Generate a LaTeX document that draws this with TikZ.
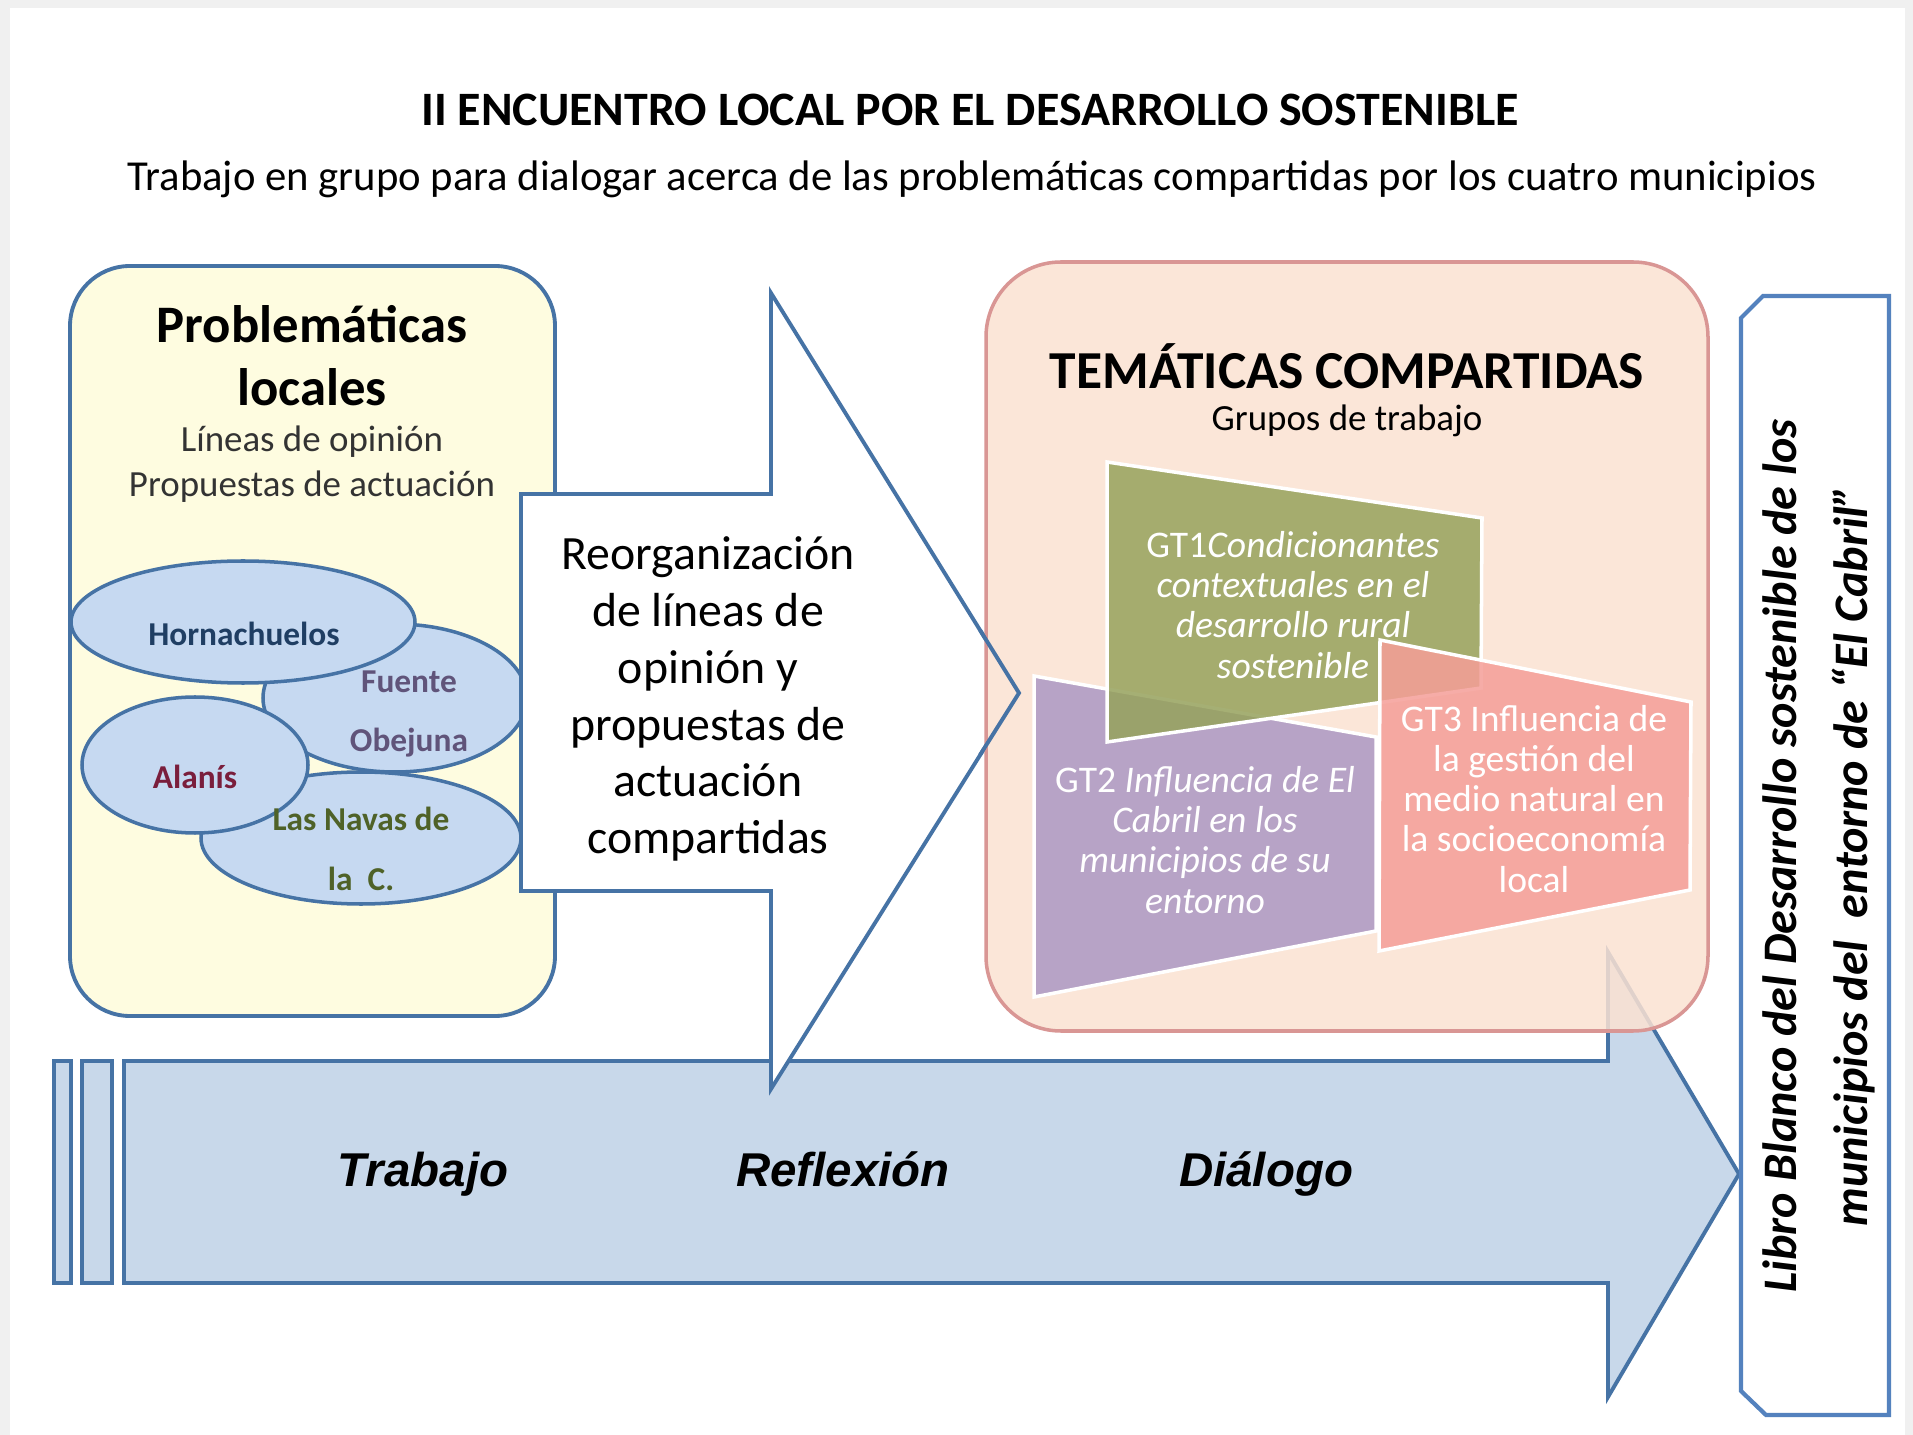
\documentclass[tikz,border=0pt]{standalone}
\usepackage{fontspec}
\setmainfont{Carlito}
\newfontfamily\arialfont{Liberation Sans}

\definecolor{lineblue}{RGB}{70,115,165}
\definecolor{boxblue}{RGB}{84,130,190}
\definecolor{townblue}{RGB}{198,217,241}
\definecolor{paleyellow}{RGB}{254,252,224}
\definecolor{peach}{RGB}{251,226,210}
\definecolor{peachline}{RGB}{217,150,148}
\definecolor{bandblue}{RGB}{200,216,234}
\definecolor{gtolive}{RGB}{150,162,92}
\definecolor{gtpurple}{RGB}{172,152,196}
\definecolor{gtsalmon}{RGB}{245,158,152}
\definecolor{hornblue}{RGB}{31,62,99}
\definecolor{fuentepurple}{RGB}{96,84,122}
\definecolor{alanisred}{RGB}{122,30,60}
\definecolor{navasgreen}{RGB}{79,98,40}

\tikzset{
  outline/.style={draw=lineblue, line width=1.1pt, line join=miter},
  town/.style={draw=lineblue, line width=1pt, fill=townblue},
  townname/.style={align=center, font=\fontsize{9.5}{17}\selectfont\bfseries},
  gt/.style={draw=white, line width=1pt, fill opacity=0.85},
  gttext/.style={text=white, align=center, font=\fontsize{10.7}{11.4}\selectfont},
  stage/.style={text height=10pt, text depth=3pt,
    font=\arialfont\bfseries\itshape\fontsize{13.5}{16}\selectfont}
}

\begin{document}
\begin{tikzpicture}[y=-1cm]
  % Background
  \fill [gray!12] (0, 0) rectangle (19.13, 14.35);
  \fill [white] (0.10, 0.08) rectangle (19.05, 14.35);

  % Title
  \node (title) at (9.70, 1.10)
    {\fontsize{13.65}{16}\selectfont\bfseries II ENCUENTRO LOCAL POR EL DESARROLLO SOSTENIBLE};
  \node (subtitle) at (9.72, 1.79)
    {\fontsize{12.15}{14}\selectfont Trabajo en grupo para dialogar acerca de las problemáticas compartidas por los cuatro municipios};

  % Problematicas locales
  \draw [outline, fill=paleyellow, rounded corners=0.6cm] (0.70, 2.66) rectangle (5.55, 10.16);
  \node [align=center, font=\fontsize{15}{18}\selectfont\bfseries] (local) at (3.12, 3.56)
    {Problemáticas\\locales};
  \node [align=center, text=black!80, font=\fontsize{10.5}{12.8}\selectfont] (opinion) at (3.12, 4.64)
    {Líneas de opinión\\Propuestas de actuación};

  % Municipios
  \draw [town] (3.95, 6.98) ellipse (1.32 and 0.74);
  \draw [town] (3.61, 8.38) ellipse (1.60 and 0.66);
  \draw [town] (2.43, 6.22) ellipse (1.72 and 0.61);
  \draw [town] (1.95, 7.65) ellipse (1.13 and 0.68);
  \node [townname, text=hornblue] (horn) at (2.44, 6.34) {Hornachuelos};
  \node [townname, text=fuentepurple] (fuente) at (4.09, 7.14) {Fuente\\Obejuna};
  \node [townname, text=alanisred] (alanis) at (1.95, 7.77) {Alanís};
  \node [townname, text=navasgreen] (navas) at (3.61, 8.49) {Las Navas de\\la~~C.};

  % Trabajo - Reflexion - Dialogo
  \draw [outline, fill=bandblue] (1.24, 10.61) -- (16.08, 10.61) -- (16.08, 9.52)
        -- (17.39, 11.74) -- (16.08, 13.97) -- (16.08, 12.83) -- (1.24, 12.83) -- cycle;
  \draw [outline, fill=bandblue] (0.54, 10.61) rectangle (0.71, 12.83);
  \draw [outline, fill=bandblue] (0.82, 10.61) rectangle (1.12, 12.83);
  \node [stage] (trabajo) at (4.23, 11.74) {Trabajo};
  \node [stage] (reflexion) at (8.43, 11.74) {Reflexión};
  \node [stage] (dialogo) at (12.66, 11.74) {Diálogo};

  % Reorganizacion
  \draw [outline, fill=white] (5.21, 4.94) -- (7.71, 4.94) -- (7.71, 2.93) -- (10.19, 6.93)
        -- (7.71, 10.89) -- (7.71, 8.91) -- (5.21, 8.91) -- cycle;
  \node [align=center, font=\fontsize{13.6}{16.2}\selectfont] (reorg) at (7.08, 6.99)
    {Reorganización\\de líneas de\\opinión y\\propuestas de\\actuación\\compartidas};

  % Tematicas compartidas
  \draw [draw=peachline, line width=1pt, fill=peach, fill opacity=0.85, rounded corners=0.75cm]
        (9.86, 2.62) rectangle (17.08, 10.31);
  \draw [outline] (9.80, 6.30) -- (10.19, 6.93) -- (9.80, 7.55);
  \node [font=\fontsize{15.2}{18}\selectfont\bfseries] (tematicas) at (13.47, 3.66)
    {TEMÁTICAS COMPARTIDAS};
  \node [font=\fontsize{10.5}{13}\selectfont] (grupos) at (13.47, 4.21) {Grupos de trabajo};

  % Grupos
  \draw [gt, fill=gtpurple] (10.34, 6.76) -- (13.76, 7.37) -- (13.76, 9.31) -- (10.34, 9.97) -- cycle;
  \node [gttext] (gt2) at (12.05, 8.40)
    {GT2 \textit{Influencia de El}\\\textit{Cabril en los}\\\textit{municipios de su}\\\textit{entorno}};
  \draw [gt, fill=gtolive] (11.07, 4.62) -- (14.82, 5.18) -- (14.81, 6.88) -- (11.07, 7.42) -- cycle;
  \node [gttext] (gt1) at (12.93, 6.05)
    {GT1\textit{Condicionantes}\\\textit{contextuales en el}\\\textit{desarrollo rural}\\\textit{sostenible}};
  \draw [gt, fill=gtsalmon] (13.80, 6.40) -- (16.91, 7.02) -- (16.90, 8.90) -- (13.79, 9.51) -- cycle;
  \node [gttext] (gt3) at (15.34, 7.99)
    {GT3 Influencia de\\la gestión del\\medio natural en\\la socioeconomía\\local};

  % Libro blanco
  \draw [draw=boxblue, line width=1.2pt, fill=white] (17.41, 3.18) -- (17.63, 2.96) -- (18.89, 2.96)
        -- (18.89, 14.15) -- (17.66, 14.15) -- (17.41, 13.91) -- cycle;
  \node [rotate=90, align=center, font=\fontsize{13.7}{20}\selectfont\bfseries\itshape] (libro)
    at (18.19, 8.56) {Libro Blanco del Desarrollo sostenible de los\\municipios del~~entorno de “El Cabril”};
\end{tikzpicture}
\end{document}
